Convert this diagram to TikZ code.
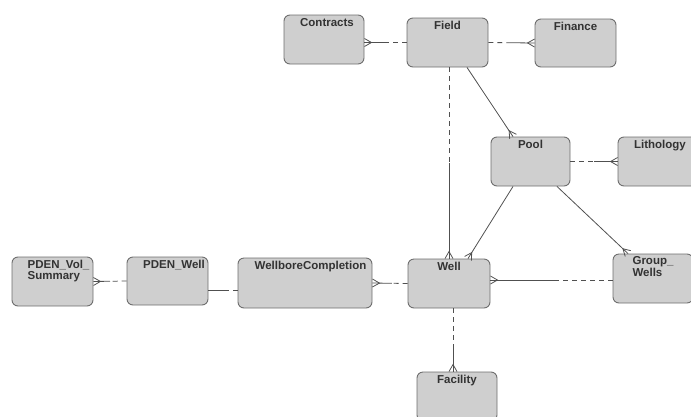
\documentclass[tikz,border=0pt]{standalone}
\usepackage{fontspec}
\setmainfont{Liberation Sans}
\usetikzlibrary{positioning}

\definecolor{boxfill}{HTML}{CFCFCF}
\definecolor{boxline}{HTML}{6E6E6E}
\definecolor{relcol}{HTML}{505050}
\definecolor{txtcol}{HTML}{333333}

% crow's foot end
\pgfdeclarearrow{
  name = Crow,
  setup code = {
    \pgfarrowssettipend{0pt}
    \pgfarrowssetlineend{0pt}
    \pgfarrowssetbackend{-7pt}
    \pgfarrowsupperhullpoint{0pt}{4pt}
    \pgfarrowsupperhullpoint{-7pt}{0pt}
  },
  drawing code = {
    \pgfsetdash{}{0pt}
    \pgfpathmoveto{\pgfqpoint{0pt}{4pt}}
    \pgfpathlineto{\pgfqpoint{-7pt}{0pt}}
    \pgfpathlineto{\pgfqpoint{0pt}{-4pt}}
    \pgfusepathqstroke
  }
}

% dashed from #2, solid (with tip #4) to #3, split at #1
\newcommand{\relline}[4]{%
  \path #2 -- coordinate[pos=#1] (rm) #3;
  \draw[optline] #2 -- (rm);
  \draw[manline,#4] (rm) -- #3;}

\begin{document}
\begin{tikzpicture}[x=1pt,y=-1pt,
    entity/.style={draw=boxline,fill=boxfill,line width=0.9pt,rounded corners=6pt,
      minimum width=80pt,minimum height=49pt,inner sep=0pt},
    lbl/.style={font=\bfseries\fontsize{11.5}{11.5}\selectfont,text=txtcol,inner sep=0pt,align=left},
    optline/.style={draw=relcol,line width=0.8pt,dash pattern=on 5pt off 4pt},
    manline/.style={draw=relcol,line width=0.8pt}]
  \clip (0,0) rectangle (691,416);
  % entities
  \node[entity] (contracts) at (324,39.5) {};
  \node[entity,minimum width=81pt] (field) at (447.5,42.5) {};
  \node[entity,minimum width=81pt,minimum height=48pt] (finance) at (575.5,43) {};
  \node[entity,minimum width=79pt] (pool) at (530.5,161.5) {};
  \node[entity] (lithology) at (658,161.5) {};
  \node[entity,minimum width=81pt] (pdenvol) at (52.5,281.5) {};
  \node[entity,minimum width=81pt,minimum height=48pt] (pdenwell) at (167.5,281) {};
  \node[entity,minimum width=134pt,minimum height=50pt] (wbc) at (305,283) {};
  \node[entity,minimum width=82pt] (well) at (449,283.5) {};
  \node[entity] (groupwells) at (653,278.5) {};
  \node[entity] (facility) at (457,396.5) {};

  \node[lbl,below=3.5pt of contracts.north,xshift=3pt] (contractsl) {Contracts};
  \node[lbl,below=3.5pt of field.north] (fieldl) {Field};
  \node[lbl,below=3.5pt of finance.north] (financel) {Finance};
  \node[lbl,below=3.5pt of pool.north] (pooll) {Pool};
  \node[lbl,below=3.5pt of lithology.north,xshift=2pt] (lithologyl) {Lithology};
  \node[lbl,below=3pt of pdenvol.north,xshift=6pt] (pdenvoll) {PDEN\_Vol\_\\Summary};
  \node[lbl,below=3.5pt of pdenwell.north,xshift=6.5pt] (pdenwelll) {PDEN\_Well};
  \node[lbl,below=3.5pt of wbc.north,xshift=5.5pt] (wbcl) {WellboreCompletion};
  \node[lbl,below=3.5pt of well.north] (welll) {Well};
  \node[lbl,below=3pt of groupwells.north] (groupwellsl) {Group\_\\Wells};
  \node[lbl,below=3.5pt of facility.north] (facilityl) {Facility};

  % relationships
  \relline{0.45}{(field.west)}{([yshift=-3pt]contracts.east)}{-Crow}
  \relline{0.4}{(field.east)}{(finance.west)}{-Crow}
  \relline{0.5}{(field.south -| well.north)}{(well.north)}{-Crow}
  \relline{0.5}{(pool.east)}{(lithology.west)}{-Crow}
  \relline{0.45}{([yshift=-1.5pt]groupwells.west)}{([yshift=3.5pt]well.east)}{-Crow}
  \relline{0.45}{(well.west)}{(wbc.east)}{-Crow}
  \relline{0.3}{([yshift=-7pt]wbc.west)}{([yshift=-9pt]pdenwell.east)}{-}
  \relline{0.5}{(pdenwell.west)}{(pdenvol.east)}{-Crow}
  \relline{0.6}{([xshift=4pt]well.south)}{([xshift=-4pt]facility.north)}{-Crow}
  \draw[manline,-Crow] ([xshift=19.5pt]field.south) -- ([xshift=-17.5pt]pool.north);
  \draw[manline,-Crow] ([xshift=-17.5pt]pool.south) -- ([xshift=19pt]well.north);
  \draw[manline,-Crow] ([xshift=26.5pt]pool.south) -- ([xshift=-25pt]groupwells.north);
\end{tikzpicture}
\end{document}
